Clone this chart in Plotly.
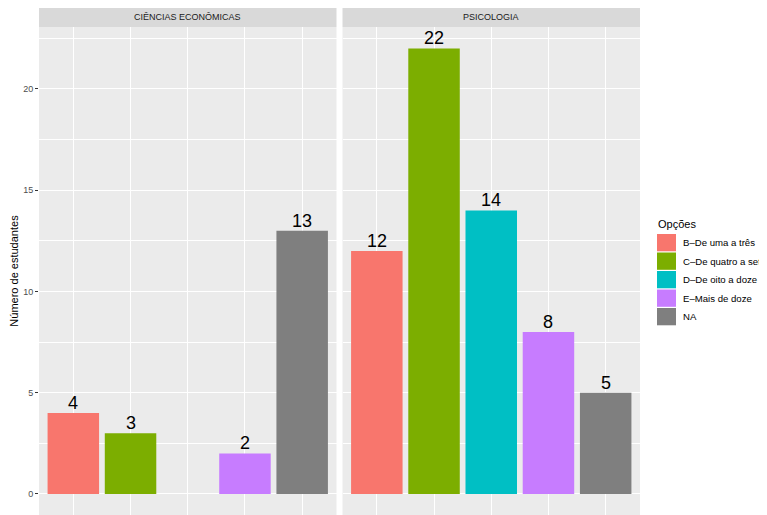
import plotly.graph_objects as go

# data
cursos = ["CIÊNCIAS ECONÔMICAS", "PSICOLOGIA"]
opcoes = ["B–De uma a três", "C–De quatro a sete", "D–De oito a doze", "E–Mais de doze", "NA"]
economicas = [4, 3, None, 2, 13]
psicologia = [12, 22, 14, 8, 5]
cores = ["#F8766D", "#7CAE00", "#00BFC4", "#C77CFF", "#7F7F7F"]
y_ticks = [0, 5, 10, 15, 20]

FONT = "Liberation Sans, Arial, sans-serif"
# the page body has an 8px margin, so the figure is sized to fit the window
OFF = 8
W, H = 767 - OFF, 515 - OFF
L, R, T, B = 39 - OFF, 127, 27 - OFF, 0
GAP = 6
plot_w = W - L - R
plot_h = H - T - B

fig = go.Figure()
for i, (op, cor) in enumerate(zip(opcoes, cores)):
    for j, vals in enumerate([economicas, psicologia]):
        v = vals[i]
        xa, ya = ("x", "y") if j == 0 else ("x2", "y2")
        fig.add_trace(
            go.Bar(
                x=[op],
                y=[v],
                name=op,
                showlegend=False,
                marker=dict(color=cor, line=dict(width=0)),
                width=0.9,
                xaxis=xa,
                yaxis=ya,
            )
        )
        if v is not None:
            # value label just above the bar (geom_text vjust=0 style)
            fig.add_annotation(
                x=op, y=v, xref=xa, yref=ya, text=str(v),
                showarrow=False, yanchor="bottom", yshift=-2,
                font=dict(size=18, color="black", family=FONT),
            )

split = (plot_w - GAP) / 2 / plot_w
axis_common = dict(
    type="category",
    categoryorder="array",
    categoryarray=opcoes,
    range=[-0.6, 4.6],
    showgrid=True,
    gridcolor="white",
    gridwidth=1.3,
    showticklabels=False,
    ticks="",
    zeroline=False,
    showline=False,
    automargin=False,
)
yaxis_common = dict(
    range=[-1.04, 23.06],
    tickvals=y_ticks,
    showgrid=True,
    gridcolor="white",
    gridwidth=1.3,
    minor=dict(dtick=2.5, tick0=2.5, showgrid=True, gridcolor="white", gridwidth=0.6),
    zeroline=False,
    showline=False,
    automargin=False,
)

fig.update_layout(
    width=W,
    height=H,
    margin=dict(l=L, r=R, t=T, b=B, autoexpand=False),
    paper_bgcolor="white",
    plot_bgcolor="#EBEBEB",
    barmode="overlay",
    showlegend=False,
    font=dict(family=FONT, color="#1A1A1A"),
    xaxis=dict(domain=[0, split], **axis_common),
    xaxis2=dict(domain=[1 - split, 1], **axis_common),
    yaxis=dict(
        anchor="x",
        ticks="outside",
        ticklen=3,
        tickcolor="#333333",
        tickfont=dict(size=9, color="#4D4D4D"),
        title=dict(text="Número de estudantes", font=dict(size=11, color="black"), standoff=9),
        **yaxis_common,
    ),
    yaxis2=dict(anchor="x2", matches="y", showticklabels=False, ticks="", **yaxis_common),
)

# facet strips
for k, curso in enumerate(cursos):
    x0, x1 = (0, split) if k == 0 else (1 - split, 1)
    fig.add_shape(
        type="rect", xref="paper", yref="paper",
        x0=x0, x1=x1, y0=1, y1=1 + 20 / plot_h,
        fillcolor="#D9D9D9", line=dict(width=0), layer="below",
    )
    fig.add_annotation(
        text=curso, xref="paper", yref="paper",
        x=(x0 + x1) / 2, y=1 + 10 / plot_h,
        showarrow=False, font=dict(size=9, color="#1A1A1A"),
        xanchor="center", yanchor="middle",
    )

# legend drawn like ggplot's guide; positions given in window pixels
def px_x(px):
    return (px - OFF - L) / plot_w

def px_y(py):
    return (H - B - (py - OFF)) / plot_h

fig.add_annotation(
    text="Opções", xref="paper", yref="paper",
    x=px_x(656), y=px_y(224), xanchor="left", yanchor="middle",
    showarrow=False, font=dict(size=11, color="black"),
)
for i, (op, cor) in enumerate(zip(opcoes, cores)):
    top = 234 + i * 18.5
    fig.add_shape(
        type="rect", xref="paper", yref="paper",
        x0=px_x(657), x1=px_x(676), y0=px_y(top + 17.3), y1=px_y(top),
        fillcolor=cor, line=dict(width=0),
    )
    fig.add_annotation(
        text=op, xref="paper", yref="paper",
        x=px_x(681), y=px_y(top + 8.7), xanchor="left", yanchor="middle",
        showarrow=False, font=dict(size=9.6, color="black"),
    )

fig.write_html("out.html")
